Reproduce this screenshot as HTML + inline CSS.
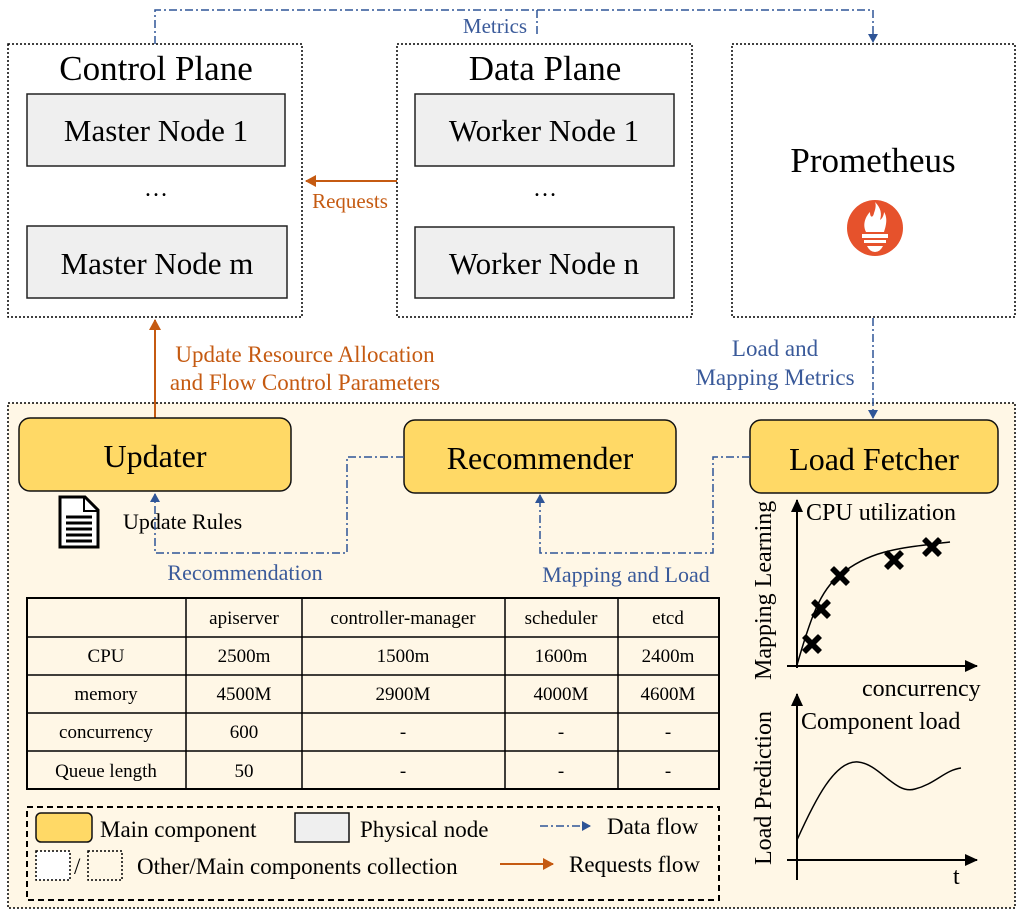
<!DOCTYPE html>
<html><head><meta charset="utf-8"><style>
html,body{margin:0;padding:0;background:#fff;}
svg{display:block;font-family:"Liberation Serif",serif;}
</style></head><body>
<svg width="1021" height="915" viewBox="0 0 1021 915" xmlns="http://www.w3.org/2000/svg">
<defs>
<marker id="ab" markerWidth="10" markerHeight="10" refX="8" refY="5" orient="auto" markerUnits="userSpaceOnUse"><path d="M0,0 L9,5 L0,10 z" fill="#2f5597"/></marker>
<marker id="ao" markerWidth="12" markerHeight="12" refX="10" refY="6" orient="auto" markerUnits="userSpaceOnUse"><path d="M0,0 L11,6 L0,12 z" fill="#c55a11"/></marker>
<marker id="ak" markerWidth="14" markerHeight="12" refX="12" refY="6" orient="auto" markerUnits="userSpaceOnUse"><path d="M0,0 L13,6 L0,12 z" fill="#000"/></marker>
<g id="x"><path d="M-9,-6 L-6,-9 L0,-3 L6,-9 L9,-6 L3,0 L9,6 L6,9 L0,3 L-6,9 L-9,6 L-3,0 Z" fill="#000" stroke="#000" stroke-width="1.5" stroke-linejoin="round"/></g>
</defs>
<!-- top boxes -->
<rect x="8" y="44" width="294" height="273" fill="#fff" stroke="#000" stroke-width="1.5" stroke-dasharray="2,2"/>
<rect x="397" y="44" width="295" height="273" fill="#fff" stroke="#000" stroke-width="1.5" stroke-dasharray="2,2"/>
<rect x="732" y="44" width="283" height="273" fill="#fff" stroke="#000" stroke-width="1.5" stroke-dasharray="2,2"/>
<g font-size="35" text-anchor="middle">
<text x="156" y="80">Control Plane</text>
<text x="545" y="80">Data Plane</text>
<text x="873" y="172">Prometheus</text>
</g>
<g fill="#efefef" stroke="#222" stroke-width="1.5">
<rect x="27" y="94" width="258" height="72"/>
<rect x="27" y="226" width="260" height="72"/>
<rect x="415" y="94" width="259" height="72"/>
<rect x="415" y="227" width="259" height="71"/>
</g>
<g font-size="31" text-anchor="middle">
<text x="156" y="141">Master Node 1</text>
<text x="157" y="274">Master Node m</text>
<text x="544" y="141">Worker Node 1</text>
<text x="544" y="274">Worker Node n</text>
<text x="156" y="196" font-size="24">…</text>
<text x="545" y="196" font-size="24">…</text>
</g>
<!-- prometheus icon -->
<circle cx="875" cy="228" r="28" fill="#e6522c"/>
<path d="M866,232 C862,224 866,216 870,212 C870,218 873,218 874,213 C876,208 876,204 875,202 C881,208 882,214 880,220 C883,218 884,214 884,212 C888,218 886,226 884,232 Z" fill="#fff"/>
<rect x="862" y="234" width="26" height="4" fill="#fff"/>
<rect x="864" y="240" width="22" height="3" fill="#fff"/>
<path d="M867,246 L883,246 Q880,252 875,252 Q870,252 867,246Z" fill="#fff"/>
<!-- metrics line -->
<path d="M155,44 V10 H873 V42" fill="none" stroke="#2f5597" stroke-width="1.5" stroke-dasharray="8,3,2,3" marker-end="url(#ab)"/>
<path d="M537,10 V35" fill="none" stroke="#2f5597" stroke-width="1.5" stroke-dasharray="8,3,2,3"/>
<text x="495" y="33" font-size="21" fill="#3a5a9a" text-anchor="middle">Metrics</text>
<!-- requests -->
<path d="M397,181 H306" stroke="#c55a11" stroke-width="2" marker-end="url(#ao)"/>
<text x="350" y="208" font-size="21" fill="#c55a11" text-anchor="middle">Requests</text>
<!-- bottom panel -->
<rect x="8" y="403" width="1007" height="505" fill="#fff7e6" stroke="#000" stroke-width="1.5" stroke-dasharray="2,2"/>
<path d="M155,418 V320" stroke="#c55a11" stroke-width="2" marker-end="url(#ao)"/>
<text x="305" y="362" font-size="23" fill="#c55a11" text-anchor="middle">Update Resource Allocation</text>
<text x="305" y="390" font-size="23" fill="#c55a11" text-anchor="middle">and Flow Control Parameters</text>
<path d="M873,318 V418" fill="none" stroke="#2f5597" stroke-width="1.5" stroke-dasharray="8,3,2,3" marker-end="url(#ab)"/>
<text x="775" y="356" font-size="23" fill="#3a5a9a" text-anchor="middle">Load and</text>
<text x="775" y="385" font-size="23" fill="#3a5a9a" text-anchor="middle">Mapping Metrics</text>
<g fill="#ffd966" stroke="#111" stroke-width="1.5">
<rect x="19" y="418" width="272" height="73" rx="11"/>
<rect x="404" y="420" width="272" height="73" rx="11"/>
<rect x="750" y="420" width="248" height="73" rx="11"/>
</g>
<g font-size="32" text-anchor="middle">
<text x="155" y="467">Updater</text>
<text x="540" y="469">Recommender</text>
<text x="874" y="470">Load Fetcher</text>
</g>
<!-- doc icon -->
<path d="M60,497 L85,497 L98,510 L98,547 L60,547 Z" fill="#fff" stroke="#000" stroke-width="3"/>
<path d="M84,497 L84,511 L98,511" fill="none" stroke="#000" stroke-width="2"/>
<g stroke="#000" stroke-width="3"><line x1="66" y1="517" x2="92" y2="517"/><line x1="66" y1="523" x2="92" y2="523"/><line x1="66" y1="529" x2="92" y2="529"/><line x1="66" y1="535" x2="92" y2="535"/><line x1="66" y1="541" x2="92" y2="541"/></g>
<text x="123" y="529" font-size="22">Update Rules</text>
<path d="M404,457 H347 V553 H155 V494" fill="none" stroke="#2f5597" stroke-width="1.5" stroke-dasharray="8,3,2,3" marker-end="url(#ab)"/>
<path d="M750,457 H713 V553 H540 V495" fill="none" stroke="#2f5597" stroke-width="1.5" stroke-dasharray="8,3,2,3" marker-end="url(#ab)"/>
<text x="245" y="580" font-size="22" fill="#3a5a9a" text-anchor="middle">Recommendation</text>
<text x="626" y="582" font-size="22" fill="#3a5a9a" text-anchor="middle">Mapping and Load</text>
<!-- table -->
<rect x="27" y="598" width="692" height="191" fill="#fff7e6" stroke="#000" stroke-width="2"/>
<g stroke="#000" stroke-width="1.5">
<line x1="186" y1="598" x2="186" y2="789"/><line x1="302" y1="598" x2="302" y2="789"/><line x1="505" y1="598" x2="505" y2="789"/><line x1="618" y1="598" x2="618" y2="789"/>
<line x1="27" y1="637" x2="719" y2="637"/><line x1="27" y1="675" x2="719" y2="675"/><line x1="27" y1="713" x2="719" y2="713"/><line x1="27" y1="751" x2="719" y2="751"/>
</g>
<g font-size="19" text-anchor="middle">
<text x="244" y="624">apiserver</text><text x="403" y="624">controller-manager</text><text x="561" y="624">scheduler</text><text x="668" y="624">etcd</text>
<text x="106" y="662">CPU</text><text x="244" y="662">2500m</text><text x="403" y="662">1500m</text><text x="561" y="662">1600m</text><text x="668" y="662">2400m</text>
<text x="106" y="700">memory</text><text x="244" y="700">4500M</text><text x="403" y="700">2900M</text><text x="561" y="700">4000M</text><text x="668" y="700">4600M</text>
<text x="106" y="738">concurrency</text><text x="244" y="738">600</text><text x="403" y="738">-</text><text x="561" y="738">-</text><text x="668" y="738">-</text>
<text x="106" y="777">Queue length</text><text x="244" y="777">50</text><text x="403" y="777">-</text><text x="561" y="777">-</text><text x="668" y="777">-</text>
</g>
<!-- legend -->
<rect x="27" y="807" width="692" height="93" fill="none" stroke="#000" stroke-width="2" stroke-dasharray="6,4"/>
<rect x="36" y="813" width="56" height="29" rx="5" fill="#ffd966" stroke="#111" stroke-width="1.5"/>
<text x="100" y="837" font-size="23">Main component</text>
<rect x="295" y="813" width="54" height="29" fill="#efefef" stroke="#111" stroke-width="1.5"/>
<text x="360" y="837" font-size="23">Physical node</text>
<path d="M540,826 H590" stroke="#2f5597" stroke-width="1.5" stroke-dasharray="8,3,2,3" marker-end="url(#ab)"/>
<text x="607" y="834" font-size="23">Data flow</text>
<rect x="36" y="851" width="34" height="29" fill="#fff" stroke="#000" stroke-width="1.5" stroke-dasharray="2,2"/>
<text x="74" y="874" font-size="23">/</text>
<rect x="88" y="851" width="34" height="29" fill="#fff7e6" stroke="#000" stroke-width="1.5" stroke-dasharray="2,2"/>
<text x="137" y="874" font-size="23">Other/Main components collection</text>
<path d="M500,864 H553" stroke="#c55a11" stroke-width="2" marker-end="url(#ao)"/>
<text x="569" y="872" font-size="23">Requests flow</text>
<!-- charts -->
<path d="M797,668 V500" stroke="#000" stroke-width="2" marker-end="url(#ak)"/>
<path d="M787,666 H977" stroke="#000" stroke-width="2" marker-end="url(#ak)"/>
<text x="806" y="520" font-size="24">CPU utilization</text>
<text x="862" y="696" font-size="24">concurrency</text>
<text transform="translate(771,680) rotate(-90)" font-size="24">Mapping Learning</text>
<path d="M797,665 C810,620 820,590 840,575 C870,550 900,548 950,542" fill="none" stroke="#000" stroke-width="1.5"/>
<use href="#x" x="812" y="644"/><use href="#x" x="821" y="609"/><use href="#x" x="840" y="576"/><use href="#x" x="894" y="560"/><use href="#x" x="932" y="547"/>
<path d="M797,880 V694" stroke="#000" stroke-width="2" marker-end="url(#ak)"/>
<path d="M787,860 H977" stroke="#000" stroke-width="2" marker-end="url(#ak)"/>
<text x="801" y="729" font-size="24">Component load</text>
<text x="953" y="884" font-size="24">t</text>
<text transform="translate(771,865) rotate(-90)" font-size="24">Load Prediction</text>
<path d="M797,840 C815,800 835,760 858,762 C880,764 895,795 915,789 C935,784 945,770 961,768" fill="none" stroke="#000" stroke-width="1.5"/>
</svg>
</body></html>
